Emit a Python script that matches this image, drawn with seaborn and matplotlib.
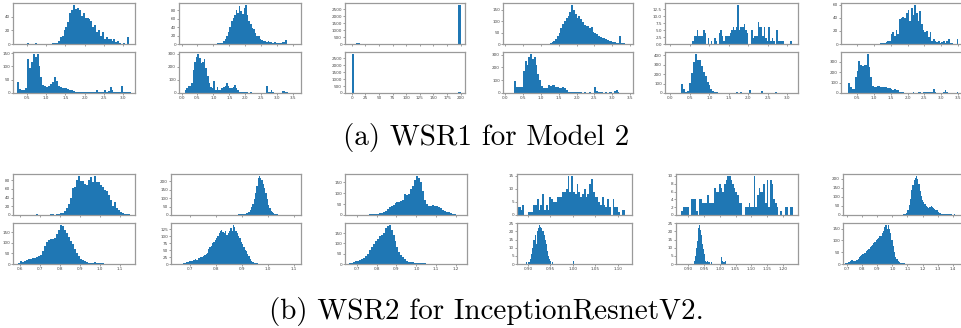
import numpy as np
import pandas as pd
import matplotlib
matplotlib.use("Agg")
import matplotlib.pyplot as plt
import seaborn as sns
from matplotlib.ticker import MultipleLocator

# ------------------------------------------------------------------
# Histogram data: first bin edge, bin width, counts
# ------------------------------------------------------------------
# (a) WSR1 for Model 2
a1_top_start, a1_top_width = 0.40, 0.05
a1_top_counts = [0, 0, 1, 0, 0, 0, 1, 0, 0, 0, 0, 0, 0, 0, 0,
                 2, 2, 1, 5, 10, 12, 20, 25, 32, 45, 50, 57, 51, 52, 50, 41, 45, 38, 38, 36,
                 33, 25, 28, 18, 20, 12, 17, 8, 10, 7, 8, 5, 8, 3, 4, 2, 0, 2, 0, 10, 0]
a1_bot_start, a1_bot_width = 0.25, 0.05
a1_bot_counts = [42, 15, 12, 12, 20, 127, 95, 115, 145, 135, 147, 100, 60, 30, 25, 22, 28, 33, 40, 60,
                 45, 25, 22, 20, 18, 18, 15, 12, 10, 6, 5, 3, 3, 2, 3, 2, 3, 2, 3, 2,
                 3, 10, 2, 3, 2, 12, 3, 8, 22, 10, 3, 5, 2, 3, 25, 3, 2, 3, 2]

a2_top_start, a2_top_width = 1.00, 0.05
a2_top_counts = [1, 0, 2, 2, 2, 3, 8, 12, 20, 28, 40, 55, 62, 68, 80, 72, 90, 78, 70, 85,
                 92, 68, 55, 48, 38, 35, 25, 20, 18, 12, 10, 8, 8, 5, 6, 4, 5, 3, 4, 2,
                 3, 2, 2, 4, 5, 10]
a2_bot_start, a2_bot_width = 0.10, 0.05
a2_bot_counts = [25, 40, 50, 55, 75, 175, 240, 275, 300, 270, 230, 235, 262, 195, 130, 75, 45, 35, 90, 20,
                 48, 22, 22, 35, 45, 55, 75, 50, 42, 35, 48, 60, 38, 20, 10, 8, 6, 5, 5, 4,
                 3, 4, 3, 3, 2, 3, 2, 2, 3, 2, 3, 55, 10, 8, 20, 5, 3, 2, 2, 3,
                 3, 18, 12, 8, 5, 3, 2]

a3_top_start, a3_top_width = 0.0, 4.0
a3_top_counts = [2, 12, 50, 40, 6, 3, 1, 1, 0, 0, 0, 0, 0, 0, 0, 0, 0, 0, 0, 0,
                 0, 0, 0, 0, 0, 0, 0, 0, 0, 0, 0, 0, 0, 0, 0, 0, 0, 0, 0, 0,
                 0, 0, 0, 0, 0, 0, 0, 0, 0, 2800]
a3_bot_start, a3_bot_width = 0.0, 4.0
a3_bot_counts = [2800, 5, 0, 0, 0, 0, 0, 0, 0, 0, 0, 0, 0, 0, 0, 0, 0, 0, 0, 0,
                 0, 0, 0, 0, 0, 0, 0, 0, 0, 0, 0, 0, 0, 0, 0, 0, 0, 0, 0, 0,
                 0, 0, 0, 0, 0, 0, 0, 0, 0, 100]

a4_top_start, a4_top_width = 1.20, 0.05
a4_top_counts = [2, 3, 8, 12, 20, 35, 50, 70, 90, 100, 115, 125, 140, 172, 150, 130, 115, 125, 110, 95,
                 85, 80, 78, 70, 75, 55, 50, 45, 35, 32, 28, 25, 20, 18, 15, 12, 10, 8, 5, 4,
                 35, 3, 3, 2, 2]
a4_bot_start, a4_bot_width = 0.25, 0.05
a4_bot_counts = [95, 50, 48, 45, 45, 170, 250, 220, 280, 305, 265, 285, 220, 150, 100, 55, 40, 38, 42, 60,
                 55, 65, 60, 50, 45, 40, 38, 45, 42, 25, 10, 8, 6, 5, 5, 4, 5, 4, 3, 4,
                 3, 3, 4, 3, 3, 50, 15, 10, 5, 4, 3, 5, 3, 4, 10, 3, 12, 20, 5, 3,
                 3, 2, 2, 3, 2]

a5_top_start, a5_top_width = 0.56, 0.04
a5_top_counts = [1, 3, 3, 5, 3, 3, 3, 5, 4, 0, 2, 0, 1, 0, 2, 1, 0, 4, 5, 3,
                 1, 3, 3, 3, 4, 5, 6, 5, 6, 14, 5, 6, 6, 7, 5, 4, 0, 0, 5, 2,
                 3, 3, 8, 6, 6, 3, 6, 2, 1, 6, 1, 2, 1, 0, 5, 1, 1, 1, 1, 0,
                 0, 0, 0, 1]
a5_bot_start, a5_bot_width = 0.28, 0.05
a5_bot_counts = [100, 40, 15, 20, 110, 215, 330, 415, 350, 355, 290, 220, 180, 120, 80, 45, 20, 12, 8, 5,
                 4, 3, 4, 3, 3, 3, 4, 3, 10, 3, 8, 3, 2, 2, 3, 35, 3, 2, 2, 2,
                 3, 20, 3, 2, 2, 2, 3, 5, 8, 3, 2, 2, 2, 2, 3, 2, 5]

a6_top_start, a6_top_width = 1.20, 0.05
a6_top_counts = [1, 2, 2, 3, 4, 5, 15, 18, 12, 22, 15, 38, 40, 42, 40, 48, 52, 35, 55, 45,
                 60, 48, 35, 50, 30, 22, 18, 20, 10, 18, 5, 8, 5, 3, 5, 2, 3, 5, 2, 5,
                 7, 2, 1, 0, 0, 8]
a6_bot_start, a6_bot_width = 0.25, 0.05
a6_bot_counts = [95, 60, 40, 40, 150, 210, 305, 270, 260, 265, 265, 375, 250, 150, 65, 55, 60, 70, 65, 62,
                 60, 55, 55, 50, 45, 35, 30, 35, 32, 25, 12, 8, 5, 4, 3, 4, 3, 4, 5, 4,
                 3, 5, 6, 4, 8, 5, 10, 8, 10, 5, 40, 5, 3, 3, 2, 3, 5, 25, 5, 3,
                 2, 3, 3, 3, 10, 2]

# (b) WSR2 for InceptionResnetV2
b1_top_start, b1_top_width = 0.60, 0.01
b1_top_counts = [0, 0, 0, 0, 0, 0, 0, 1, 2, 0, 0, 0, 0, 0, 1, 2, 2, 1, 3, 3,
                 5, 4, 10, 15, 25, 40, 62, 65, 80, 90, 78, 78, 72, 70, 80, 88, 75, 90, 75, 75,
                 68, 65, 58, 55, 45, 35, 20, 30, 15, 12, 8, 5, 3, 3, 2]
b1_bot_start, b1_bot_width = 0.59, 0.01
b1_bot_counts = [5, 12, 10, 15, 20, 22, 25, 28, 30, 35, 38, 45, 60, 85, 105, 115, 118, 120, 125, 140,
                 160, 185, 178, 160, 145, 130, 110, 95, 70, 50, 38, 25, 18, 12, 8, 5, 4, 6, 8, 5,
                 4, 3, 3, 2, 2, 2, 1, 1, 1]

b2_top_start, b2_top_width = 0.85, 0.005
b2_top_counts = [1, 2, 1, 2, 2, 1, 2, 3, 3, 4, 5, 6, 8, 10, 14, 20, 30, 45, 65, 95,
                 130, 170, 215, 230, 220, 205, 185, 160, 130, 95, 60, 40, 25, 15, 10, 6, 4, 3, 2, 2,
                 1, 2, 1, 1, 1, 1]
b2_bot_start, b2_bot_width = 0.675, 0.005
b2_bot_counts = [2, 5, 6, 8, 10, 12, 12, 14, 15, 18, 16, 20, 22, 25, 25, 30, 32, 35, 40, 55,
                 60, 65, 75, 80, 85, 95, 100, 112, 120, 122, 115, 110, 118, 105, 112, 120, 128, 118, 140, 132,
                 120, 112, 100, 95, 80, 70, 60, 50, 45, 35, 28, 18, 12, 8, 5, 3, 2, 1, 1]

b3_top_start, b3_top_width = 0.68, 0.01
b3_top_counts = [1, 1, 1, 1, 1, 1, 2, 2, 3, 3, 4, 5, 5, 8, 10, 15, 20, 28, 38, 42,
                 45, 55, 60, 62, 65, 70, 95, 92, 98, 120, 135, 160, 180, 170, 150, 110, 70, 50, 40, 42,
                 45, 40, 42, 38, 30, 25, 18, 15, 12, 8, 5, 3, 2, 1]
b3_bot_start, b3_bot_width = 0.66, 0.01
b3_bot_counts = [3, 6, 12, 14, 15, 18, 25, 30, 40, 50, 70, 85, 95, 110, 120, 135, 140, 150, 175, 185,
                 190, 165, 140, 110, 85, 60, 45, 35, 25, 15, 12, 10, 8, 6, 5, 4, 5, 3, 3, 2,
                 2, 1, 1, 2, 1]

b4_top_start, b4_top_width = 0.876, 0.004
b4_top_counts = [3, 3, 2, 4, 0, 0, 1, 1, 1, 4, 4, 6, 2, 4, 8, 2, 4, 2, 7, 6,
                 5, 5, 7, 7, 7, 9, 9, 10, 15, 9, 15, 9, 8, 12, 9, 7, 8, 10, 7, 8,
                 12, 14, 9, 7, 7, 5, 4, 7, 4, 3, 6, 3, 0, 6, 3, 3, 1, 0, 2, 2]
b4_bot_start, b4_bot_width = 0.895, 0.0025
b4_bot_counts = [1, 0, 1, 1, 3, 6, 10, 15, 18, 12, 20, 22, 24, 23, 22, 20, 18, 15, 12, 8,
                 5, 3, 2, 1, 0, 0, 0, 0, 0, 0, 0, 0, 0, 0, 0, 0, 0, 0, 0, 0,
                 0, 0, 2]

b5_top_start, b5_top_width = 0.878, 0.0052
b5_top_counts = [1, 2, 2, 2, 2, 0, 4, 4, 4, 1, 0, 4, 4, 3, 3, 3, 5, 3, 3, 3,
                 7, 6, 6, 8, 7, 6, 8, 9, 10, 10, 9, 8, 7, 6, 5, 3, 3, 0, 0, 2,
                 2, 3, 2, 2, 10, 2, 5, 7, 6, 6, 8, 3, 9, 2, 9, 8, 4, 3, 2, 0,
                 1, 0, 0, 2, 2, 0, 2, 2]
b5_bot_start, b5_bot_width = 0.92, 0.0025
b5_bot_counts = [2, 5, 10, 14, 18, 22, 24, 21, 18, 14, 12, 9, 6, 4, 2, 1, 2, 1, 2, 1,
                 0, 1, 0, 0, 0, 0, 0, 0, 1, 0, 0, 0, 0, 3, 4, 2, 1, 0, 1, 2, 0]

b6_top_start, b6_top_width = 1.06, 0.008
b6_top_counts = [2, 3, 5, 8, 12, 25, 55, 90, 135, 165, 190, 205, 215, 200, 170, 130, 105, 85, 70, 60,
                 52, 45, 40, 45, 48, 42, 38, 32, 30, 25, 18, 12, 10, 8, 7, 6, 5, 5, 4, 3,
                 3, 4, 2, 3, 1]
b6_bot_start, b6_bot_width = 0.69, 0.008
b6_bot_counts = [3, 5, 8, 10, 14, 15, 12, 14, 12, 18, 22, 28, 32, 38, 42, 45, 48, 55, 60, 62,
                 70, 75, 80, 90, 95, 100, 105, 110, 118, 120, 130, 140, 155, 165, 148, 165, 150, 130, 100, 75,
                 50, 30, 20, 12, 8, 5, 4, 3, 3, 2, 2, 1, 1, 1, 1]

caption_a = "(a) WSR1 for Model 2"
caption_b = "(b) WSR2 for InceptionResnetV2."

# ------------------------------------------------------------------
# Layout (pixel boxes in a 962 x 328 canvas) and axis styling
# ------------------------------------------------------------------
W, H = 962, 328
BLUE = "#1f77b4"

cols_a = [(13, 135), (179, 301), (345, 465), (503, 633), (665, 798), (841, 962)]
cols_b = [(13, 135), (171, 301), (345, 467), (517, 632), (676, 798), (843, 962)]
rows_a = [(3, 44), (52, 93)]
rows_b = [(174, 215), (223, 264)]

xlim_a = [(0.135, 3.31), (-0.08, 3.75), (-12.3, 208), (-0.06, 3.58), (-0.14, 3.28), (0.035, 3.61)]
xlim_b = [(0.565, 1.175), (0.627, 1.127), (0.64, 1.256), (0.876, 1.131), (0.862, 1.247), (0.674, 1.46)]
xstep_a = [0.5, 0.5, 25, 0.5, 0.5, 0.5]
xstep_b = [0.1, 0.1, 0.1, 0.05, 0.05, 0.1]

ystep_a = [(20, 50), (20, 100), (500, 500), (50, 100), (2.5, 100), (20, 100)]
ystep_b = [(20, 50), (50, 25), (50, 50), (5, 5), (2, 5), (50, 50)]

hist_a = [
    ((a1_top_start, a1_top_width, a1_top_counts), (a1_bot_start, a1_bot_width, a1_bot_counts)),
    ((a2_top_start, a2_top_width, a2_top_counts), (a2_bot_start, a2_bot_width, a2_bot_counts)),
    ((a3_top_start, a3_top_width, a3_top_counts), (a3_bot_start, a3_bot_width, a3_bot_counts)),
    ((a4_top_start, a4_top_width, a4_top_counts), (a4_bot_start, a4_bot_width, a4_bot_counts)),
    ((a5_top_start, a5_top_width, a5_top_counts), (a5_bot_start, a5_bot_width, a5_bot_counts)),
    ((a6_top_start, a6_top_width, a6_top_counts), (a6_bot_start, a6_bot_width, a6_bot_counts)),
]
hist_b = [
    ((b1_top_start, b1_top_width, b1_top_counts), (b1_bot_start, b1_bot_width, b1_bot_counts)),
    ((b2_top_start, b2_top_width, b2_top_counts), (b2_bot_start, b2_bot_width, b2_bot_counts)),
    ((b3_top_start, b3_top_width, b3_top_counts), (b3_bot_start, b3_bot_width, b3_bot_counts)),
    ((b4_top_start, b4_top_width, b4_top_counts), (b4_bot_start, b4_bot_width, b4_bot_counts)),
    ((b5_top_start, b5_top_width, b5_top_counts), (b5_bot_start, b5_bot_width, b5_bot_counts)),
    ((b6_top_start, b6_top_width, b6_top_counts), (b6_bot_start, b6_bot_width, b6_bot_counts)),
]

fig = plt.figure(figsize=(W / 100, H / 100), dpi=100)


def px_axes(x0, x1, y0, y1):
    return fig.add_axes([x0 / W, 1 - y1 / H, (x1 - x0) / W, (y1 - y0) / H])


def draw_hist(ax, spec):
    start, width, counts = spec
    counts = np.asarray(counts, dtype=float)
    edges = start + width * np.arange(len(counts) + 1)
    df = pd.DataFrame({"value": 0.5 * (edges[:-1] + edges[1:]), "count": counts})
    sns.histplot(data=df, x="value", weights="count", bins=list(edges), ax=ax,
                 color=BLUE, alpha=1.0, linewidth=0, stat="count")
    ax.set_xlabel("")
    ax.set_ylabel("")


def style(ax, show_xlabels):
    for s in ax.spines.values():
        s.set_color("#9a9a9a")
        s.set_linewidth(0.9)
    ax.tick_params(axis="both", labelsize=3, length=1.2, width=0.4, pad=1,
                   colors="#555555", labelcolor="#444444")
    ax.tick_params(axis="x", labelbottom=show_xlabels)


def draw_group(cols, rows, xlims, xsteps, ysteps, hists):
    for c, (x0, x1) in enumerate(cols):
        for r, (y0, y1) in enumerate(rows):
            ax = px_axes(x0, x1, y0, y1)
            draw_hist(ax, hists[c][r])
            ax.set_xlim(*xlims[c])
            ax.xaxis.set_major_locator(MultipleLocator(xsteps[c]))
            ax.yaxis.set_major_locator(MultipleLocator(ysteps[c][r]))
            style(ax, show_xlabels=(r == 1))


draw_group(cols_a, rows_a, xlim_a, xstep_a, ystep_a, hist_a)
draw_group(cols_b, rows_b, xlim_b, xstep_b, ystep_b, hist_b)

fig.text(486 / W, 1 - 138 / H, caption_a, ha="center", va="center",
         fontsize=21, family="cmr10")
fig.text(486 / W, 1 - 311 / H, caption_b, ha="center", va="center",
         fontsize=21, family="cmr10")

fig.savefig("out.png", dpi=100)
